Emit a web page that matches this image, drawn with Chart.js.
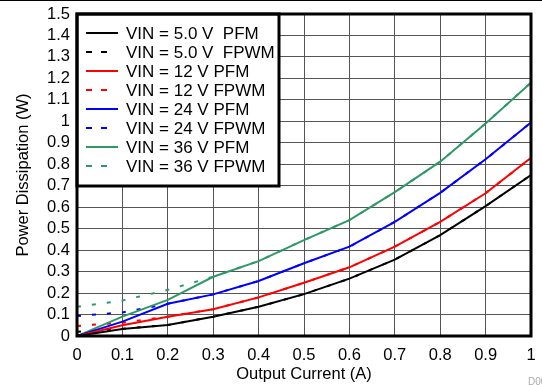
<!DOCTYPE html>
<html>
<head>
<meta charset="utf-8">
<script src="https://cdn.jsdelivr.net/npm/chart.js@4"></script>
<style>
  body { margin: 0; background: #fff; }
  #wrap { position: relative; width: 542px; height: 385px; }
</style>
</head>
<body>
<div id="wrap"><canvas id="chart" width="542" height="385"></canvas></div>
<script>
// output current (A)
const current = [0, 0.1, 0.2, 0.3, 0.4, 0.5, 0.6, 0.7, 0.8, 0.9, 1.0];

// power dissipation (W)
const pfm5   = [0, 0.033, 0.051, 0.09, 0.136, 0.195, 0.267, 0.356, 0.47, 0.605, 0.75];
const fpwm5  = [0.02, 0.034, 0.051, 0.09, 0.136, 0.195, 0.267, 0.356, 0.47, 0.605, 0.75];
const pfm12  = [0, 0.05, 0.09, 0.125, 0.18, 0.248, 0.32, 0.416, 0.532, 0.665, 0.83];
const fpwm12 = [0.047, 0.062, 0.09, 0.125, 0.18, 0.248, 0.32, 0.416, 0.532, 0.665, 0.83];
const pfm24  = [0, 0.067, 0.15, 0.194, 0.256, 0.339, 0.416, 0.532, 0.667, 0.823, 0.995];
const fpwm24 = [0.093, 0.11, 0.15, 0.194, 0.256, 0.339, 0.416, 0.532, 0.667, 0.823, 0.995];
const pfm36  = [0, 0.09, 0.168, 0.276, 0.349, 0.447, 0.54, 0.67, 0.812, 0.99, 1.18];
const fpwm36 = [0.136, 0.165, 0.215, 0.276, 0.349, 0.447, 0.54, 0.67, 0.812, 0.99, 1.18];

const seriesLabels = [
  'VIN = 5.0 V  PFM', 'VIN = 5.0 V  FPWM',
  'VIN = 12 V PFM', 'VIN = 12 V FPWM',
  'VIN = 24 V PFM', 'VIN = 24 V FPWM',
  'VIN = 36 V PFM', 'VIN = 36 V FPWM'
];
const seriesValues = [pfm5, fpwm5, pfm12, fpwm12, pfm24, fpwm24, pfm36, fpwm36];

const xTickLabels = ['0', '0.1', '0.2', '0.3', '0.4', '0.5', '0.6', '0.7', '0.8', '0.9', '1'];
const yTickLabels = ['0', '0.1', '0.2', '0.3', '0.4', '0.5', '0.6', '0.7', '0.8', '0.9', '1',
                     '1.1', '1.2', '1.3', '1.4', '1.5'];

const colors = ['#000000', '#ff0000', '#0000ff', '#2e9966'];
const FONT = "'Liberation Sans', Arial, sans-serif";

const datasets = seriesValues.map((vals, i) => {
  const dashed = i % 2 === 1;
  return {
    label: seriesLabels[i],
    data: vals.map((v, k) => ({ x: current[k], y: v })),
    borderColor: colors[Math.floor(i / 2)],
    borderWidth: 2,
    borderDash: dashed ? [4, 11] : [],
    pointRadius: 0,
    tension: 0,
    fill: false,
    order: dashed ? 2 : 1
  };
});

// frame, boxed legend, top rule and footer id
const decor = {
  id: 'decor',
  beforeDraw(chart) {
    const ctx = chart.ctx;
    ctx.save();
    ctx.fillStyle = '#000';
    ctx.fillRect(0, 0, chart.width, 1);
    ctx.fillStyle = '#aaa';
    ctx.font = '10px ' + FONT;
    ctx.textBaseline = 'top';
    ctx.fillText('D001', 528, 377);
    ctx.restore();
  },
  afterDraw(chart) {
    const ctx = chart.ctx;
    const a = chart.chartArea;
    ctx.save();
    // legend box
    ctx.fillStyle = '#fff';
    ctx.fillRect(a.left, a.top, 202, 172);
    ctx.strokeStyle = '#000';
    ctx.lineWidth = 3;
    ctx.strokeRect(a.left, a.top, 202, 172);
    ctx.font = '17px ' + FONT;
    ctx.textBaseline = 'middle';
    chart.data.datasets.forEach((ds, i) => {
      const y = a.top + 19 + 19 * i;
      const dashed = i % 2 === 1;
      ctx.strokeStyle = ds.borderColor;
      ctx.lineWidth = 2;
      ctx.setLineDash(dashed ? [6, 9] : []);
      ctx.beginPath();
      ctx.moveTo(a.left + 9, y);
      ctx.lineTo(a.left + (dashed ? 30 : 41), y);
      ctx.stroke();
      ctx.setLineDash([]);
      ctx.fillStyle = '#000';
      ctx.fillText(ds.label, a.left + 49, y + 1);
    });
    // plot frame
    ctx.lineWidth = 3;
    ctx.strokeStyle = '#000';
    ctx.strokeRect(a.left, a.top, a.right - a.left, a.bottom - a.top);
    ctx.restore();
  }
};

new Chart(document.getElementById('chart'), {
  type: 'line',
  data: { datasets: datasets },
  options: {
    responsive: false,
    animation: false,
    devicePixelRatio: 1,
    layout: { padding: { top: 14, right: 11, left: 0, bottom: 0 } },
    plugins: { legend: { display: false }, tooltip: { enabled: false } },
    scales: {
      x: {
        type: 'linear',
        min: 0,
        max: 1,
        afterFit: s => { s.height = 49; s.paddingRight = 0; s.paddingLeft = 0; },
        ticks: {
          stepSize: 0.1,
          autoSkip: false,
          maxRotation: 0,
          padding: 10,
          color: '#000',
          font: { family: FONT, size: 16.5 },
          callback: (v, idx) => xTickLabels[idx]
        },
        grid: { color: '#555', lineWidth: 1, drawTicks: false },
        border: { display: false },
        title: {
          display: true,
          text: 'Output Current (A)',
          color: '#000',
          font: { family: FONT, size: 16.5 },
          padding: { top: 0, bottom: 1 }
        }
      },
      y: {
        min: 0,
        max: 1.5,
        afterFit: s => { s.width = 77; s.paddingTop = 0; s.paddingBottom = 0; },
        ticks: {
          stepSize: 0.1,
          autoSkip: false,
          padding: 7,
          color: '#000',
          font: { family: FONT, size: 16.5 },
          callback: (v, idx) => yTickLabels[idx]
        },
        grid: { color: '#555', lineWidth: 1, drawTicks: false },
        border: { display: false },
        title: {
          display: true,
          text: 'Power Dissipation (W)',
          color: '#000',
          font: { family: FONT, size: 16.5 },
          padding: { top: 14, bottom: 0 }
        }
      }
    }
  },
  plugins: [decor]
});
</script>
</body>
</html>
